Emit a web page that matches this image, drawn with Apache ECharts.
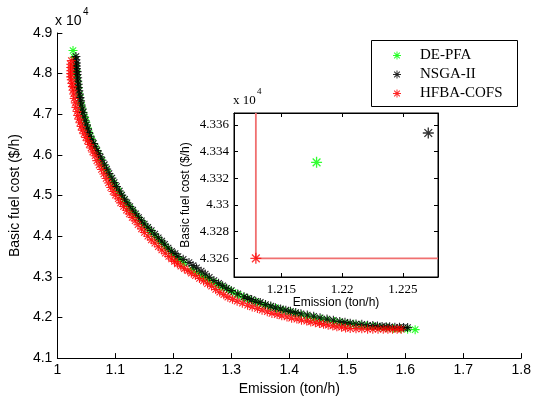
<!DOCTYPE html>
<html>
<head>
<meta charset="utf-8">
<script src="https://cdn.jsdelivr.net/npm/echarts@6/dist/echarts.min.js"></script>
<style>html,body{margin:0;padding:0;background:#fff;}#c{width:534px;height:401px;}</style>
</head>
<body>
<div id="c"></div>
<script>
// ---------- data (cost in units of 10^4 $/h) ----------
const seriesNames = ['DE-PFA', 'NSGA-II', 'HFBA-COFS'];

const dePfaEmission = [1.027,1.029,1.031,1.032,1.033,1.035,1.036,1.038,1.040,1.042,1.044,1.047,1.049,1.052,1.055,1.058,1.062,1.066,1.070,1.075,1.080,1.085,1.090,1.095,1.099,1.105,1.110,1.115,1.120,1.125,1.130,1.136,1.142,1.148,1.155,1.161,1.168,1.174,1.180,1.186,1.192,1.198,1.205,1.212,1.218,1.232,1.240,1.248,1.255,1.262,1.270,1.278,1.286,1.295,1.303,1.312,1.321,1.330,1.339,1.348,1.358,1.368,1.378,1.388,1.399,1.410,1.421,1.432,1.443,1.455,1.466,1.478,1.489,1.500,1.511,1.522,1.533,1.545,1.556,1.568,1.580,1.592,1.604,1.617];
const dePfaCost     = [4.857,4.840,4.822,4.808,4.795,4.780,4.765,4.747,4.728,4.716,4.705,4.692,4.680,4.666,4.652,4.640,4.628,4.616,4.604,4.589,4.574,4.561,4.548,4.535,4.523,4.511,4.500,4.489,4.479,4.469,4.460,4.450,4.440,4.430,4.420,4.410,4.400,4.391,4.383,4.374,4.366,4.357,4.348,4.341,4.3332,4.319,4.311,4.304,4.298,4.292,4.286,4.280,4.274,4.268,4.262,4.256,4.250,4.245,4.240,4.235,4.230,4.226,4.222,4.218,4.214,4.210,4.206,4.203,4.199,4.196,4.193,4.190,4.187,4.185,4.183,4.181,4.179,4.178,4.176,4.175,4.173,4.172,4.171,4.170];

const nsgaEmission = [1.032,1.032,1.033,1.033,1.033,1.034,1.034,1.035,1.035,1.036,1.036,1.037,1.038,1.039,1.040,1.041,1.043,1.044,1.046,1.048,1.050,1.052,1.054,1.056,1.059,1.062,1.065,1.068,1.071,1.074,1.077,1.081,1.085,1.089,1.094,1.098,1.102,1.107,1.111,1.116,1.120,1.125,1.130,1.135,1.140,1.145,1.150,1.156,1.162,1.168,1.174,1.180,1.185,1.191,1.197,1.203,1.208,1.217,1.227,1.234,1.240,1.248,1.255,1.262,1.270,1.278,1.285,1.292,1.300,1.311,1.322,1.328,1.335,1.342,1.350,1.359,1.368,1.376,1.385,1.394,1.402,1.411,1.420,1.431,1.442,1.453,1.465,1.476,1.487,1.496,1.505,1.515,1.525,1.535,1.544,1.552,1.560,1.567,1.573,1.582,1.590,1.597,1.604];
const nsgaCost     = [4.842,4.834,4.826,4.819,4.812,4.805,4.798,4.790,4.782,4.774,4.766,4.758,4.750,4.741,4.733,4.723,4.713,4.704,4.694,4.684,4.674,4.664,4.655,4.646,4.637,4.628,4.620,4.611,4.603,4.595,4.587,4.576,4.565,4.554,4.543,4.532,4.522,4.511,4.501,4.491,4.482,4.473,4.464,4.455,4.446,4.438,4.430,4.422,4.414,4.405,4.396,4.388,4.380,4.371,4.363,4.357,4.350,4.343,4.3354,4.328,4.322,4.314,4.307,4.299,4.291,4.284,4.278,4.272,4.266,4.258,4.251,4.247,4.244,4.240,4.237,4.232,4.228,4.224,4.221,4.218,4.215,4.212,4.209,4.206,4.203,4.199,4.196,4.193,4.190,4.188,4.186,4.184,4.183,4.181,4.180,4.179,4.178,4.177,4.177,4.176,4.176,4.175,4.175];

const hfbaEmission = [1.024,1.023,1.023,1.023,1.023,1.023,1.024,1.025,1.026,1.027,1.028,1.029,1.031,1.032,1.034,1.035,1.037,1.039,1.041,1.043,1.046,1.049,1.052,1.055,1.058,1.061,1.065,1.068,1.072,1.076,1.080,1.084,1.088,1.092,1.096,1.100,1.105,1.109,1.114,1.119,1.124,1.129,1.134,1.139,1.145,1.150,1.156,1.162,1.168,1.174,1.180,1.186,1.192,1.197,1.202,1.207,1.213,1.219,1.225,1.231,1.238,1.245,1.252,1.259,1.266,1.273,1.280,1.287,1.294,1.302,1.310,1.319,1.328,1.336,1.345,1.353,1.362,1.370,1.379,1.387,1.396,1.404,1.413,1.421,1.430,1.437,1.445,1.452,1.459,1.467,1.475,1.482,1.490,1.497,1.505,1.515,1.525,1.535,1.544,1.553,1.562,1.570,1.578,1.586,1.593];
const hfbaCost     = [4.832,4.823,4.815,4.807,4.800,4.792,4.785,4.776,4.768,4.759,4.750,4.739,4.728,4.717,4.707,4.697,4.688,4.679,4.670,4.661,4.652,4.643,4.635,4.626,4.617,4.607,4.598,4.586,4.575,4.564,4.553,4.542,4.531,4.520,4.510,4.501,4.492,4.482,4.473,4.464,4.455,4.446,4.438,4.428,4.418,4.409,4.400,4.391,4.383,4.374,4.366,4.358,4.350,4.344,4.338,4.332,4.326,4.320,4.315,4.309,4.303,4.296,4.290,4.283,4.277,4.269,4.262,4.256,4.250,4.245,4.240,4.235,4.230,4.226,4.222,4.218,4.214,4.210,4.207,4.204,4.201,4.198,4.196,4.193,4.191,4.189,4.187,4.185,4.183,4.181,4.179,4.177,4.176,4.174,4.173,4.172,4.172,4.171,4.171,4.171,4.171,4.171,4.171,4.171,4.171];

// inset (zoomed) best-compromise points
const insetEmission = [1.2179, 1.2271, 1.2129];
const insetCost     = [4.3332, 4.3354, 4.3260];

// tick labels
const mainXTicks  = [1, 1.1, 1.2, 1.3, 1.4, 1.5, 1.6, 1.7, 1.8];
const mainYTicks  = [4.1, 4.2, 4.3, 4.4, 4.5, 4.6, 4.7, 4.8, 4.9];
const insetXTicks = [1.215, 1.22, 1.225];
const insetYTicks = [4.326, 4.328, 4.33, 4.332, 4.334, 4.336];

// ---------- styling ----------
const colors = ['#00ff00', '#000000', '#ff0000'];
const STAR = 'path://M-0.12,-1L0.12,-1L0.12,1L-0.12,1Z' +
  'M-1,-0.12L1,-0.12L1,0.12L-1,0.12Z' +
  'M-0.62,-0.79L0.79,0.62L0.62,0.79L-0.79,-0.62Z' +
  'M-0.62,0.79L-0.79,0.62L0.62,-0.79L0.79,-0.62Z';
const SANS = 'Liberation Sans, Arial, sans-serif';
const SERIF = 'Liberation Serif, Times New Roman, serif';

const INSET_X = [1.2111, 1.2279];
const INSET_Y = [4.3246, 4.3369];

function pairs(xs, ys) { return xs.map((x, i) => [x, ys[i]]); }

const mainData = [pairs(dePfaEmission, dePfaCost), pairs(nsgaEmission, nsgaCost), pairs(hfbaEmission, hfbaCost)];

const series = [];
for (let i = 0; i < 3; i++) {
  series.push({
    name: seriesNames[i], type: 'scatter', xAxisIndex: 0, yAxisIndex: 0,
    symbol: STAR, symbolSize: 9, data: mainData[i],
    itemStyle: { color: colors[i], opacity: 0.85 }, z: 2 + i, silent: true
  });
}
// dominance lines through HFBA-COFS point in inset
series.push({
  name: 'guide', type: 'line', xAxisIndex: 1, yAxisIndex: 1, showSymbol: false, symbol: 'none',
  data: [[insetEmission[2], INSET_Y[1]], [insetEmission[2], insetCost[2]], [INSET_X[1], insetCost[2]]],
  lineStyle: { color: '#f07070', width: 1.8 }, z: 5, silent: true
});
for (let i = 0; i < 3; i++) {
  series.push({
    name: seriesNames[i], type: 'scatter', xAxisIndex: 1, yAxisIndex: 1,
    symbol: STAR, symbolSize: 11, data: [[insetEmission[i], insetCost[i]]],
    itemStyle: { color: colors[i] }, z: 6, silent: true
  });
}

const axisLine = { show: true, onZero: false, lineStyle: { color: '#000', width: 1 } };

const option = {
  animation: false,
  backgroundColor: '#fff',
  grid: [
    { left: 55, top: 33, width: 468, height: 337, containLabel: false },
    { left: 234, top: 113, width: 204, height: 164, show: true, backgroundColor: '#fff', borderColor: '#000', borderWidth: 1, z: 4 }
  ],
  xAxis: [
    { type: 'value', gridIndex: 0, min: 1, max: 1.8, interval: 0.1,
      axisLine, axisTick: { inside: true, length: 5, lineStyle: { color: '#000' } },
      axisLabel: { color: '#000', fontFamily: SANS, fontSize: 14, margin: 5 },
      splitLine: { show: false },
      name: 'Emission (ton/h)', nameLocation: 'middle', nameGap: 17,
      nameTextStyle: { color: '#000', fontFamily: SANS, fontSize: 14 } },
    { type: 'value', gridIndex: 1, min: INSET_X[0], max: INSET_X[1],
      axisLine, axisTick: { inside: true, length: 4, customValues: insetXTicks, lineStyle: { color: '#000' } },
      axisLabel: { color: '#000', fontFamily: SERIF, fontSize: 13, margin: 6, customValues: insetXTicks },
      splitLine: { show: false }, z: 5,
      name: 'Emission (ton/h)', nameLocation: 'middle', nameGap: 20,
      nameTextStyle: { color: '#000', fontFamily: SANS, fontSize: 12 } },
    { type: 'value', gridIndex: 1, position: 'top', min: INSET_X[0], max: INSET_X[1],
      axisLine, axisTick: { inside: true, length: 4, customValues: insetXTicks, lineStyle: { color: '#000' } },
      axisLabel: { show: false }, splitLine: { show: false }, z: 5 }
  ],
  yAxis: [
    { type: 'value', gridIndex: 0, min: 4.1, max: 4.9, interval: 0.1,
      axisLine, axisTick: { inside: true, length: 5, lineStyle: { color: '#000' } },
      axisLabel: { color: '#000', fontFamily: SANS, fontSize: 14, margin: 5 },
      splitLine: { show: false },
      name: 'Basic fuel cost ($/h)', nameLocation: 'middle', nameGap: 30,
      nameTextStyle: { color: '#000', fontFamily: SANS, fontSize: 14 } },
    { type: 'value', gridIndex: 1, min: INSET_Y[0], max: INSET_Y[1],
      axisLine, axisTick: { inside: true, length: 4, customValues: insetYTicks, lineStyle: { color: '#000' } },
      axisLabel: { color: '#000', fontFamily: SERIF, fontSize: 13, margin: 5, customValues: insetYTicks },
      splitLine: { show: false }, z: 5,
      name: 'Basic fuel cost ($/h)', nameLocation: 'middle', nameGap: 42,
      nameTextStyle: { color: '#000', fontFamily: SANS, fontSize: 12 } },
    { type: 'value', gridIndex: 1, position: 'right', min: INSET_Y[0], max: INSET_Y[1],
      axisLine, axisTick: { inside: true, length: 4, customValues: insetYTicks, lineStyle: { color: '#000' } },
      axisLabel: { show: false }, splitLine: { show: false }, z: 5 }
  ],
  legend: {
    orient: 'vertical', left: 371, top: 40,
    data: seriesNames.map(n => ({ name: n, icon: STAR })),
    itemWidth: 8, itemHeight: 8, itemGap: 0,
    padding: [6, 10, 4, 22],
    textStyle: { color: '#000', fontFamily: SERIF, fontSize: 15, lineHeight: 19, padding: [0, 0, 0, 14] },
    selectedMode: false, z: 10
  },
  graphic: [
    { type: 'rect', left: 371, top: 40, z: 9, shape: { width: 146, height: 66 },
      style: { fill: '#fff', stroke: '#000', lineWidth: 1 } },
    { type: 'text', left: 55, top: 14, z: 10, style: { text: 'x 10', font: '14px ' + SANS, fill: '#000' } },
    { type: 'text', left: 83, top: 7, z: 10, style: { text: '4', font: '10px ' + SANS, fill: '#000' } },
    { type: 'text', left: 233, top: 94, z: 10, style: { text: 'x 10', font: '13px ' + SERIF, fill: '#000' } },
    { type: 'text', left: 257, top: 87, z: 10, style: { text: '4', font: '9px ' + SERIF, fill: '#000' } }
  ],
  series
};

const chart = echarts.init(document.getElementById('c'), null, { renderer: 'canvas' });
chart.setOption(option);
</script>
</body>
</html>
